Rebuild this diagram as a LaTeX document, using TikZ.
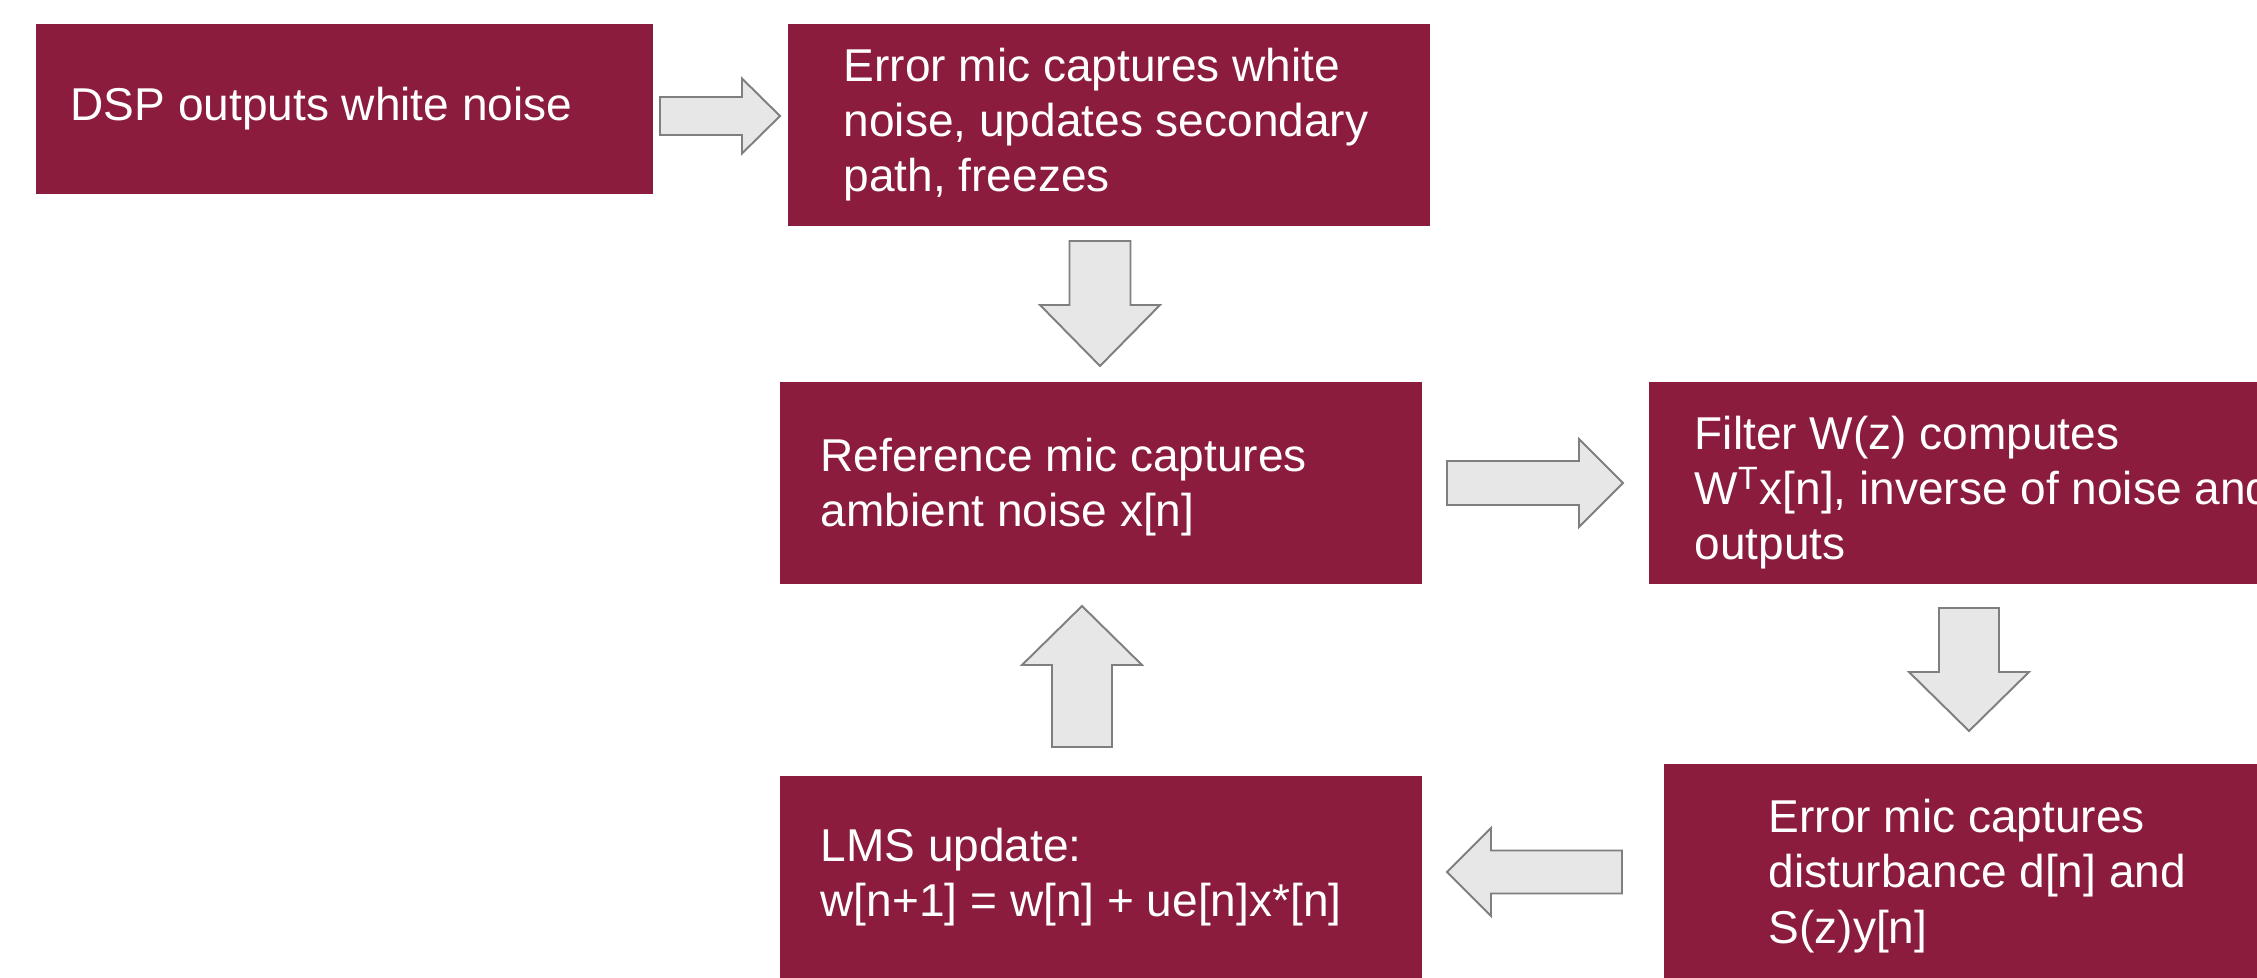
\documentclass[tikz,border=0pt]{standalone}
\usepackage{fontspec}
\setmainfont{Liberation Sans}
\usetikzlibrary{calc}
\definecolor{boxred}{HTML}{8B1C3E}
\definecolor{arrfill}{HTML}{E7E7E7}
\definecolor{arrline}{HTML}{7F7F7F}
\newcommand{\blockarrow}[5]{%
  \coordinate (ba-h) at ($(#2)!#5!(#1)$);
  \draw[blockarr] ($(#1)!#3!90:(#2)$) -- ($(ba-h)!#3!90:(#2)$) -- ($(ba-h)!#4!90:(#2)$) -- (#2)
    -- ($(ba-h)!#4!-90:(#2)$) -- ($(ba-h)!#3!-90:(#2)$) -- ($(#1)!#3!-90:(#2)$) -- cycle;}
\begin{document}
\begin{tikzpicture}[x=0.1mm, y=-0.1mm,
  box/.style={rectangle, fill=boxred, draw=none, inner sep=0pt, anchor=north west,
              minimum width=64.2mm, minimum height=20.2mm},
  txt/.style={text=white, inner sep=0pt, align=left,
              font=\fontsize{13.1pt}{15.7pt}\selectfont},
  blockarr/.style={fill=arrfill, draw=arrline, line width=0.55pt, line join=miter}]
\useasboundingbox (0,0) rectangle (2257,978);
\fill[white] (0,0) rectangle (2257,978);
\clip (0,0) rectangle (2257,978);

% boxes
\node[box, minimum width=61.7mm, minimum height=17mm] (b1) at (35,23) {};
\node[box] (b2) at (787,23) {};
\node[box] (b3) at (779,381) {};
\node[box] (b4) at (1648,381) {};
\node[box, minimum height=25mm] (b5) at (1663,763) {};
\node[box] (b6) at (779,775) {};

% texts
\node[txt, anchor=west] (t1) at ([xshift=3.5mm]b1.west) {DSP outputs white noise};
\node[txt, anchor=west] (t2) at ([xshift=5.6mm]b2.west) {Error mic captures white\\noise, updates secondary\\path, freezes};
\node[txt, anchor=west] (t3) at ([xshift=4.1mm, yshift=-0.4mm]b3.west) {Reference mic captures\\ambient noise x[n]};
\node[txt, anchor=west] (t4) at ([xshift=4.6mm, yshift=-1mm]b4.west) {Filter W(z) computes\\W\textsuperscript{T}x[n], inverse of noise and\\outputs};
\node[txt, anchor=west] (t5) at (1768,876) {Error mic captures\\disturbance d[n] and\\S(z)y[n]};
\node[txt, anchor=west] (t6) at ([xshift=4.1mm]b6.west) {LMS update:\\w[n+1] = w[n] + ue[n]x*[n]};

% arrow end points
\coordinate (a1t) at (660,116);  \coordinate (a1p) at (780,116);
\coordinate (a2t) at (1100,241); \coordinate (a2p) at (1100,366);
\coordinate (a3t) at (1447,483); \coordinate (a3p) at (1623,483);
\coordinate (a4t) at (1969,608); \coordinate (a4p) at (1969,731);
\coordinate (a5t) at (1622,872); \coordinate (a5p) at (1447,872);
\coordinate (a6t) at (1082,747); \coordinate (a6p) at (1082,606);

\blockarrow{a1t}{a1p}{1.9mm}{3.75mm}{3.8mm}
\blockarrow{a2t}{a2p}{3.05mm}{6mm}{6.1mm}
\blockarrow{a3t}{a3p}{2.2mm}{4.4mm}{4.4mm}
\blockarrow{a4t}{a4p}{3mm}{6mm}{5.9mm}
\blockarrow{a5t}{a5p}{2.15mm}{4.4mm}{4.4mm}
\blockarrow{a6t}{a6p}{3mm}{6mm}{5.9mm}
\end{tikzpicture}
\end{document}
